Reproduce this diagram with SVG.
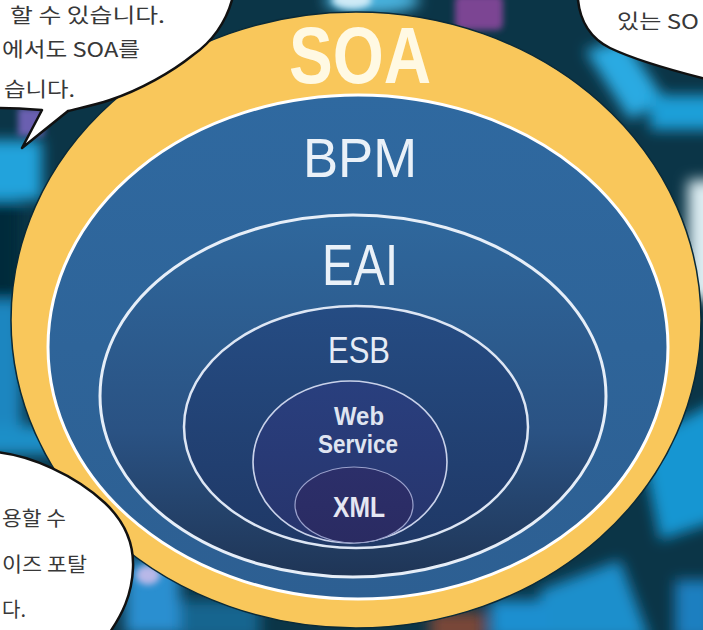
<svg xmlns="http://www.w3.org/2000/svg" width="703" height="630" viewBox="0 0 703 630">
<defs>
<style>
.bub{fill:#ffffff;stroke:#111111;stroke-width:2.5;stroke-linejoin:round}
.btxt{font-family:"Noto Sans CJK KR","Noto Sans",sans-serif;font-size:20px;font-weight:normal;fill:#383838}
.lbl{font-family:"Liberation Sans",Arial,sans-serif;text-anchor:middle}
</style>
<filter id="blur" x="-50%" y="-50%" width="200%" height="200%"><feGaussianBlur stdDeviation="7"/></filter>
<filter id="blur2" x="-50%" y="-50%" width="200%" height="200%"><feGaussianBlur stdDeviation="3"/></filter>
<linearGradient id="gBPM" x1="0" y1="0" x2="0" y2="1"><stop offset="0" stop-color="#2f69a0"/><stop offset="1" stop-color="#2d5f92"/></linearGradient>
<linearGradient id="gEAI" x1="0" y1="0" x2="0" y2="1"><stop offset="0" stop-color="#2f689d"/><stop offset="0.6" stop-color="#2a5283"/><stop offset="1" stop-color="#1f3556"/></linearGradient>
<linearGradient id="gESB" x1="0" y1="0" x2="0" y2="1"><stop offset="0" stop-color="#254c83"/><stop offset="1" stop-color="#1f3866"/></linearGradient>
<linearGradient id="gWS" x1="0" y1="0" x2="0" y2="1"><stop offset="0" stop-color="#293f7e"/><stop offset="1" stop-color="#27346c"/></linearGradient>
<linearGradient id="gXML" x1="0" y1="0" x2="0" y2="1"><stop offset="0" stop-color="#2c2f6a"/><stop offset="1" stop-color="#2a2b62"/></linearGradient>
</defs>

<g id="background">
<rect x="0" y="0" width="703" height="630" fill="#0b3547"/>
<g filter="url(#blur)">
<rect x="-20" y="140" width="62" height="60" fill="#22a3dc"/>
<rect x="-20" y="200" width="40" height="100" fill="#062b3a"/>
<rect x="-20" y="300" width="42" height="140" fill="#1b86c0"/>
<rect x="-20" y="425" width="80" height="30" fill="#1a8fc8"/>
<ellipse cx="372" cy="0" rx="48" ry="14" fill="#4ab2de"/>
<path d="M585 50 L625 40 L665 100 L630 120 Z" fill="#2aaae2"/>
<rect x="650" y="95" width="70" height="35" fill="#1f9fd8"/>
<rect x="688" y="180" width="30" height="120" fill="#dcecf1"/>
<path d="M640 440 L720 400 L720 520 L660 540 Z" fill="#1796d2"/>
<path d="M540 590 L620 560 L650 640 L540 640 Z" fill="#1c8fcc"/>
<rect x="675" y="580" width="40" height="60" fill="#1f7fc0"/>
<rect x="430" y="612" width="55" height="30" fill="#7a4638"/>
<rect x="490" y="600" width="60" height="40" fill="#1a8fd0"/>
<rect x="125" y="560" width="55" height="75" fill="#2a8fd0"/>
<rect x="180" y="600" width="80" height="40" fill="#15658f"/>
</g>
<g filter="url(#blur2)">
<ellipse cx="352" cy="0" rx="20" ry="9" fill="#cfeaf6"/>
<rect x="455" y="-5" width="48" height="35" rx="6" fill="#7b4593"/>
<rect x="18" y="108" width="26" height="28" fill="#6a5fb0"/>
<ellipse cx="148" cy="575" rx="12" ry="10" fill="#b8b8e8"/>
</g>
</g>

<g id="connectors"></g>

<g id="node-soa">
<ellipse cx="356" cy="320" rx="345" ry="308" fill="#f9c75b" stroke="#0a2a38" stroke-width="1.5"/>
<text class="lbl" x="360" y="83" font-size="80" font-weight="bold" fill="#fff9e3" textLength="142" lengthAdjust="spacingAndGlyphs">SOA</text>
</g>

<g id="node-bpm">
<ellipse cx="358" cy="347" rx="310" ry="252" fill="url(#gBPM)" stroke="#ffffff" stroke-width="3"/>
<text class="lbl" x="360" y="177" font-size="56" fill="#eaf1f8" textLength="114" lengthAdjust="spacingAndGlyphs">BPM</text>
</g>

<g id="node-eai">
<ellipse cx="353" cy="396" rx="253" ry="181" fill="url(#gEAI)" stroke="#e6eef8" stroke-width="3"/>
<text class="lbl" x="360" y="285" font-size="58" fill="#eaf1f8" textLength="76" lengthAdjust="spacingAndGlyphs">EAI</text>
</g>

<g id="node-esb">
<ellipse cx="356" cy="427" rx="172" ry="121" fill="url(#gESB)" stroke="#dde6f4" stroke-width="2.5"/>
<text class="lbl" x="359" y="363" font-size="37" fill="#e6ecf6" textLength="62" lengthAdjust="spacingAndGlyphs">ESB</text>
</g>

<g id="node-webservice">
<ellipse cx="350" cy="462" rx="97" ry="81" fill="url(#gWS)" stroke="#c9d2ea" stroke-width="1.6"/>
<text class="lbl" x="359" y="425" font-size="25" font-weight="bold" fill="#dfe4f0" textLength="50" lengthAdjust="spacingAndGlyphs">Web</text>
<text class="lbl" x="358" y="453" font-size="25" font-weight="bold" fill="#dfe4f0" textLength="80" lengthAdjust="spacingAndGlyphs">Service</text>
</g>

<g id="node-xml">
<ellipse cx="354" cy="505" rx="59" ry="38" fill="url(#gXML)" stroke="#9aa1cc" stroke-width="1.2"/>
<text class="lbl" x="359" y="517" font-size="29" font-weight="bold" fill="#e5e7f2" textLength="52" lengthAdjust="spacingAndGlyphs">XML</text>
</g>

<g id="bubble-top-left">
<path class="bub" d="M-5 -5 L233 -5 L232 0 C226 22 212 42 193 55 C172 72 140 90 110 100 C95 105 80 108 68 111 L22 148 L42 110 C28 109 10 108 -5 108 Z"/>
<text class="btxt" x="10" y="23" textLength="155" lengthAdjust="spacingAndGlyphs">할 수 있습니다.</text>
<text class="btxt" x="2" y="57" textLength="138" lengthAdjust="spacingAndGlyphs">에서도 SOA를</text>
<text class="btxt" x="4" y="97" textLength="71" lengthAdjust="spacingAndGlyphs">습니다.</text>
</g>

<g id="bubble-top-right">
<path class="bub" d="M578 -5 L578 0 C580 20 590 38 610 48 C635 60 670 70 710 80 L710 -5 Z"/>
<text class="btxt" x="617" y="29" textLength="82" lengthAdjust="spacingAndGlyphs">있는 SO</text>
</g>

<g id="bubble-bottom-left">
<path class="bub" d="M-5 452 C30 455 75 475 105 503 C125 522 134 545 133 568 C132 595 122 615 108 635 L-5 635 Z"/>
<text class="btxt" x="2" y="526" textLength="64" lengthAdjust="spacingAndGlyphs">용할 수</text>
<text class="btxt" x="2" y="572" textLength="85" lengthAdjust="spacingAndGlyphs">이즈 포탈</text>
<text class="btxt" x="2" y="617">다.</text>
</g>
</svg>
